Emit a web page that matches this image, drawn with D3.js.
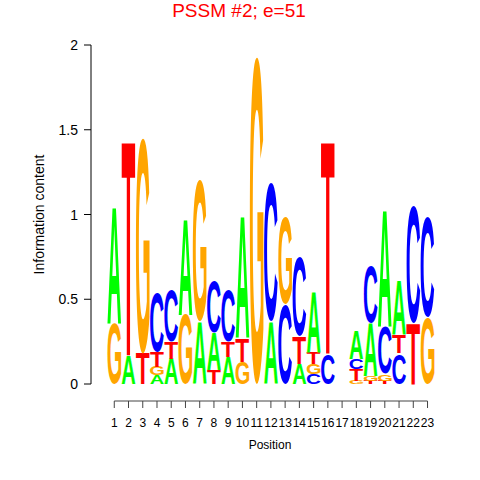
<!DOCTYPE html>
<html><head><meta charset="utf-8">
<script src="https://cdn.jsdelivr.net/npm/d3@7"></script>
<style>body{margin:0;background:#fff}svg{display:block}</style>
</head><body>
<svg id="chart" width="480" height="480"></svg>
<script>
// ---- data ----
const positions = ["1","2","3","4","5","6","7","8","9","10","11","12","13","14","15","16","17","18","19","20","21","22","23"];
const heightA = [0.69,0.17,0,0.05,0.15,0.57,0.37,0.22,0.16,0.72,0,0.37,0,0.12,0.36,0,0,0.17,0.31,0.69,0.32,0,0];
const heightC = [0,0,0,0.35,0.30,0,0,0.30,0.30,0,0,0.82,0.47,0.47,0.06,0.18,0,0.06,0.33,0.28,0.18,0.69,0.59];
const heightG = [0.36,0,1.27,0.05,0,0.41,0.83,0,0,0.13,1.93,0,0.51,0,0.06,0,0,0.02,0.03,0.04,0,0,0.39];
const heightT = [0,1.27,0.18,0.09,0.10,0,0,0.08,0.09,0.14,0,0,0,0.16,0.07,1.26,0,0.07,0.02,0.02,0.11,0.36,0];
// bottom-to-top stacking order per position
const stackOrder = ["GA","AT","TG","AGTC","ATC","GA","AG","TAC","ATC","GTA","G","AC","CG","ATC","CGTA","CT","","GTCA","TGAC","TGCA","CTA","TC","GC"];
const yTicks = [0, 0.5, 1, 1.5, 2];
const yTickLabels = ["0","0.5","1","1.5","2"];
const letterColors = {A:"#00FF00", C:"#0000FF", G:"#FFA500", T:"#FF0000"};
const titleText = "PSSM #2; e=51";

// ---- layout ----
const svg = d3.select("#chart");
const step = (427.8 - 114) / 22;
const x = d3.scaleBand().domain(positions).range([114 - step/2, 427.8 + step/2]).padding(0.04);
const y = d3.scaleLinear().domain([0, 2]).range([384, 45]);
const heights = {A:heightA, C:heightC, G:heightG, T:heightT};

// glyph tight metrics via canvas
const FONT = "'Liberation Sans', Arial, Helvetica, sans-serif";
const cvs = document.createElement("canvas");
const ctx = cvs.getContext("2d");
ctx.font = "bold 100px " + FONT;
const metrics = {};
for (const L of ["A","C","G","T"]) {
  const m = ctx.measureText(L);
  metrics[L] = {l: m.actualBoundingBoxLeft, r: m.actualBoundingBoxRight, a: m.actualBoundingBoxAscent, d: m.actualBoundingBoxDescent};
}

const logo = svg.append("g");
positions.forEach((p, i) => {
  let base = 0;
  for (const L of stackOrder[i]) {
    const h = heights[L][i];
    if (h <= 0) continue;
    const yBot = y(base), yTop = y(base + h);
    base += h;
    const x0 = x(p), w = x.bandwidth();
    const m = metrics[L];
    const sx = w / (m.l + m.r), sy = (yBot - yTop) / (m.a + m.d);
    logo.append("text")
      .attr("transform", `translate(${x0 + m.l*sx},${yTop + m.a*sy}) scale(${sx},${sy})`)
      .attr("font-family", FONT).attr("font-weight", "bold").attr("font-size", 100)
      .attr("fill", letterColors[L]).text(L);
  }
});

// y axis
const yAxis = svg.append("g");
yAxis.append("line").attr("x1", 91).attr("x2", 91).attr("y1", y(2)).attr("y2", y(0)).attr("stroke", "#000");
yTicks.forEach((t, i) => {
  yAxis.append("line").attr("x1", 84).attr("x2", 91).attr("y1", y(t)).attr("y2", y(t)).attr("stroke", "#000");
  yAxis.append("text").attr("x", 78).attr("y", y(t)).attr("dy", "0.36em").attr("text-anchor", "end")
    .attr("font-family", FONT).attr("font-size", 14).attr("fill", "#000").text(yTickLabels[i]);
});
svg.append("text").attr("transform", `translate(39,${(y(0)+y(2))/2}) rotate(-90)`).attr("text-anchor", "middle")
  .attr("dy", "0.36em").attr("font-family", FONT).attr("font-size", 14).text("Information content");

// x axis
const xa = svg.append("g");
const xc = p => x(p) + x.bandwidth()/2;
xa.append("line").attr("x1", xc(positions[0])).attr("x2", xc(positions[22])).attr("y1", 401).attr("y2", 401).attr("stroke", "#444");
positions.forEach(p => {
  xa.append("line").attr("x1", xc(p)).attr("x2", xc(p)).attr("y1", 401).attr("y2", 408).attr("stroke", "#444");
  xa.append("text").attr("x", xc(p)).attr("y", 423).attr("dy", "0.36em").attr("text-anchor", "middle")
    .attr("font-family", FONT).attr("font-size", 12).text(p);
});
svg.append("text").attr("x", 270).attr("y", 445).attr("dy", "0.36em").attr("text-anchor", "middle")
  .attr("font-family", FONT).attr("font-size", 12).text("Position");

// title
svg.append("text").attr("x", 239).attr("y", 17).attr("text-anchor", "middle")
  .attr("font-family", FONT).attr("font-size", 19).attr("fill", "#FF0000").text(titleText);
</script>
</body></html>
